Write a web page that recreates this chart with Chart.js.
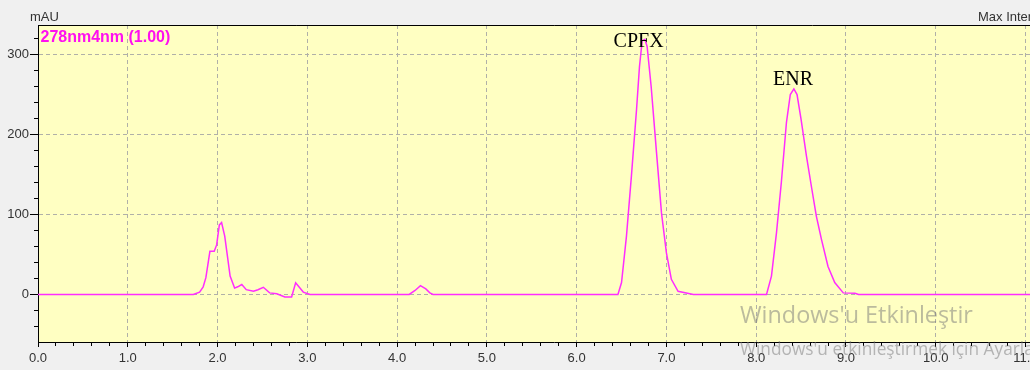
<!DOCTYPE html>
<html>
<head>
<meta charset="utf-8">
<script src="https://cdn.jsdelivr.net/npm/chart.js@4"></script>
<style>
  html, body { margin: 0; padding: 0; overflow: hidden; background: #f0f0f0; }
  canvas { display: block; }
</style>
</head>
<body>
<canvas id="c" width="1080" height="370"></canvas>
<script>
// ---- data (retention time in min, absorbance in mAU) ----
const times = [0, 1.73, 1.80, 1.84, 1.87, 1.915, 1.963, 1.99, 2.02, 2.045,
  2.08, 2.14, 2.19, 2.225, 2.27, 2.32, 2.40, 2.45, 2.51, 2.58,
  2.66, 2.75, 2.825, 2.87, 2.955, 3.03, 4.135, 4.20, 4.26, 4.32,
  4.365, 4.40, 6.46, 6.50, 6.555, 6.61, 6.667, 6.70, 6.73, 6.76,
  6.785, 6.83, 6.89, 6.945, 7.00, 7.055, 7.13, 7.30, 8.115, 8.17,
  8.226, 8.28, 8.337, 8.38, 8.42, 8.455, 8.50, 8.56, 8.615, 8.67,
  8.727, 8.80, 8.875, 8.97, 9.10, 9.14, 11.5];
const absorbance = [0, 0, 3, 9.6, 21, 54, 54, 62, 87, 90,
  73, 23, 8, 9.6, 12.5, 6, 4, 6, 9, 2,
  1, -3, -3, 14.6, 3, 0, 0, 5, 11, 7,
  2, 0, 0, 15, 73, 148, 231, 285, 317, 319,
  310, 260, 177, 102, 52, 19, 4, 0, 0, 23,
  77, 140, 215, 250, 257, 250, 219, 173, 135, 98,
  69, 35, 15, 2, 1.5, 0, 0];
const xTickLabels = ['0.0','1.0','2.0','3.0','4.0','5.0','6.0','7.0','8.0','9.0','10.0','11.0'];
const yTickLabels = ['0','100','200','300'];
const peakNames = ['CPFX', 'ENR'];
const peakTimes = [6.69, 8.41];
const peakHeights = [310, 262];
const channelLabel = '278nm4nm (1.00)';
const yUnit = 'mAU';
const rightTitle = 'Max Intensity : 319,000';
const watermark1 = "Windows'u Etkinleştir";
const watermark2 = "Windows'u etkinleştirmek için Ayarlar'a gidin.";

// ---- styling ----
const LINE = '#ff2cff';
const GRID = '#b0b0a8';
const PLOT_BG = '#ffffc2';
const TXT = '#333333';
const X_MIN = 0, X_MAX = 11.5, Y_MIN = -59.4, Y_MAX = 336.9;

const xTicks = [];
for (let i = 0; i <= 57; i++) xTicks.push(+(i * 0.2).toFixed(1));
const yTicks = [];
for (let v = -40; v <= 320; v += 20) yTicks.push(v);
const isInt = v => Math.abs(v - Math.round(v)) < 1e-6;

const decor = {
  id: 'decor',
  beforeDraw(chart) {
    const {ctx, chartArea: a} = chart;
    ctx.save();
    ctx.fillStyle = PLOT_BG;
    ctx.fillRect(a.left, a.top, a.right - a.left, a.bottom - a.top);
    ctx.restore();
  },
  afterDraw(chart) {
    const {ctx, chartArea: a, scales} = chart;
    ctx.save();
    // top frame line
    ctx.strokeStyle = '#000';
    ctx.lineWidth = 1;
    ctx.beginPath();
    ctx.moveTo(a.left, Math.round(a.top) + 0.5);
    ctx.lineTo(a.right, Math.round(a.top) + 0.5);
    ctx.stroke();
    // unit + right title
    ctx.fillStyle = TXT;
    ctx.font = '13px "Liberation Sans", Arial, sans-serif';
    ctx.textBaseline = 'alphabetic';
    ctx.textAlign = 'left';
    ctx.fillText(yUnit, 30, 21);
    ctx.fillText(rightTitle, 978, 21);
    // channel label
    ctx.fillStyle = '#ff10f0';
    ctx.font = 'bold 16px "Liberation Sans", Arial, sans-serif';
    ctx.fillText(channelLabel, a.left + 2.5, a.top + 17);
    // peak labels
    ctx.fillStyle = '#000';
    ctx.font = '20px "Liberation Serif", "Times New Roman", serif';
    ctx.textAlign = 'center';
    peakNames.forEach((n, i) => {
      ctx.fillText(n, scales.x.getPixelForValue(peakTimes[i]), scales.y.getPixelForValue(peakHeights[i]));
    });
    // watermark
    ctx.textAlign = 'left';
    ctx.fillStyle = 'rgba(120,120,120,0.5)';
    ctx.font = '24px "Open Sans", sans-serif';
    let w = ctx.measureText(watermark1).width;
    ctx.font = (24 * 233 / w).toFixed(1) + 'px "Open Sans", sans-serif';
    ctx.fillText(watermark1, 740, 323);
    ctx.font = '16px "Open Sans", sans-serif';
    w = ctx.measureText("Windows'u etkinleştirmek için Ayarl").width;
    ctx.font = (16 * 285 / w).toFixed(1) + 'px "Open Sans", sans-serif';
    ctx.fillText(watermark2, 740, 355);
    ctx.restore();
  }
};

new Chart(document.getElementById('c'), {
  type: 'line',
  data: {
    datasets: [{
      data: times.map((t, i) => ({x: t, y: absorbance[i]})),
      borderColor: LINE,
      borderWidth: 1.5,
      pointRadius: 0,
      tension: 0,
      fill: false
    }]
  },
  options: {
    responsive: false,
    animation: false,
    events: [],
    layout: {padding: {top: 25, right: 9.6, left: 0, bottom: 0}},
    plugins: {legend: {display: false}, tooltip: {enabled: false}},
    scales: {
      x: {
        type: 'linear', min: X_MIN, max: X_MAX,
        afterBuildTicks: s => { s.ticks = xTicks.map(v => ({value: v})); },
        afterFit: s => { s.height = 28; },
        ticks: {
          autoSkip: false, maxRotation: 0, minRotation: 0, padding: 4,
          color: TXT, font: {family: '"Liberation Sans", Arial, sans-serif', size: 13},
          callback: v => isInt(v) ? xTickLabels[Math.round(v)] : ''
        },
        grid: {
          color: c => (c.tick && isInt(c.tick.value) && c.tick.value > 0) ? GRID : 'rgba(0,0,0,0)',
          lineWidth: 1,
          tickLength: 5,
          tickColor: '#000',
          tickBorderDash: c => (c.tick && isInt(c.tick.value)) ? [] : [3, 100]
        },
        border: {display: true, color: '#000', width: 1, dash: [4, 3]}
      },
      y: {
        type: 'linear', min: Y_MIN, max: Y_MAX,
        afterBuildTicks: s => { s.ticks = yTicks.map(v => ({value: v})); },
        afterFit: s => { s.width = 38; },
        ticks: {
          autoSkip: false, padding: 1,
          color: TXT, font: {family: '"Liberation Sans", Arial, sans-serif', size: 13},
          callback: v => (v % 100 === 0 && v >= 0) ? yTickLabels[v / 100] : ''
        },
        grid: {
          color: c => (c.tick && c.tick.value % 100 === 0) ? GRID : 'rgba(0,0,0,0)',
          lineWidth: 1,
          tickLength: 8,
          tickColor: '#000',
          tickBorderDash: c => (c.tick && c.tick.value % 100 === 0) ? [] : [0, 4, 4, 100]
        },
        border: {display: true, color: '#000', width: 1, dash: [4, 3]}
      }
    }
  },
  plugins: [decor]
});
</script>
</body>
</html>
